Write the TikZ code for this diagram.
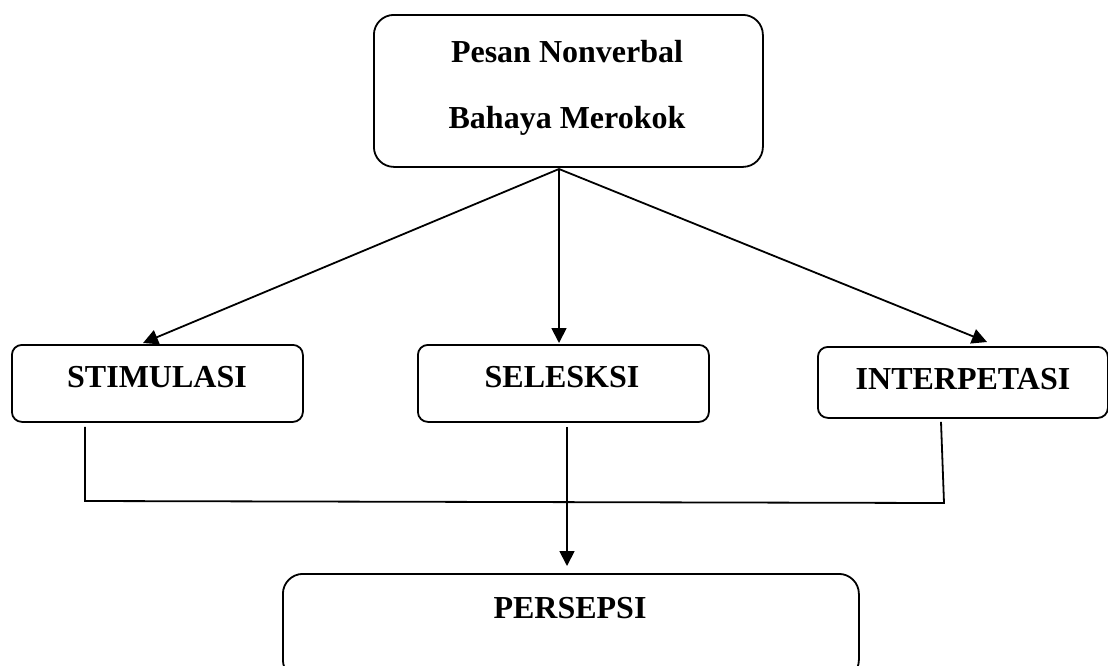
\documentclass[tikz,border=0pt]{standalone}
\usepackage{fontspec}
\setmainfont{Liberation Serif}
\usetikzlibrary{arrows.meta,calc}
\begin{document}
\begin{tikzpicture}[x=1pt,y=-1pt,
  box/.style={draw,line width=1.8pt,rounded corners=#1,inner sep=0pt,anchor=north west},
  box/.default=10pt,
  lbl/.style={anchor=base,inner sep=0pt,font=\fontsize{32}{38}\selectfont\bfseries},
  conn/.style={line width=1.8pt},
  arr/.style={line width=1.8pt,-{Triangle[length=15pt,width=15pt]}}]
\clip (0,0) rectangle (1108,665);
\useasboundingbox (0,0) rectangle (1108,665);
% boxes
\node[box=20pt,minimum width=389pt,minimum height=152pt] (top) at (373,14) {};
\node[box,minimum width=291pt,minimum height=77pt] (stim) at (11,344) {};
\node[box,minimum width=291pt,minimum height=77pt] (sel) at (417,344) {};
\node[box,minimum width=290pt,minimum height=71pt] (interp) at (817,346) {};
\node[box=20pt,minimum width=576pt,minimum height=106pt] (pers) at (282,573) {};
% texts
\node[lbl] (t1) at (567,62) {Pesan Nonverbal};
\node[lbl] (t2) at (567,128) {Bahaya Merokok};
\node[lbl] (t3) at (157,387) {STIMULASI};
\node[lbl] (t4) at (562,387) {SELESKSI};
\node[lbl] (t5) at (963,389) {INTERPETASI};
\node[lbl] (t6) at (570,618) {PERSEPSI};
% top arrows
\coordinate (apex) at (559,169);
\draw[arr] (apex) -- ($(stim.north west)+(132,-1)$);
\draw[arr] (apex) -- ($(sel.north west)+(142,-1)$);
\draw[arr] (apex) -- ($(interp.north west)+(170,-4)$);
% bottom connectors
\coordinate (j1) at (85,501);
\coordinate (j2) at (944,503);
\draw[conn] ($(stim.south west)+(74,4)$) -- (j1) -- (j2) -- ($(interp.south west)+(124,3)$);
\draw[arr] ($(sel.south west)+(150,4)$) -- ($(pers.north west)+(285,-7)$);
\end{tikzpicture}
\end{document}
